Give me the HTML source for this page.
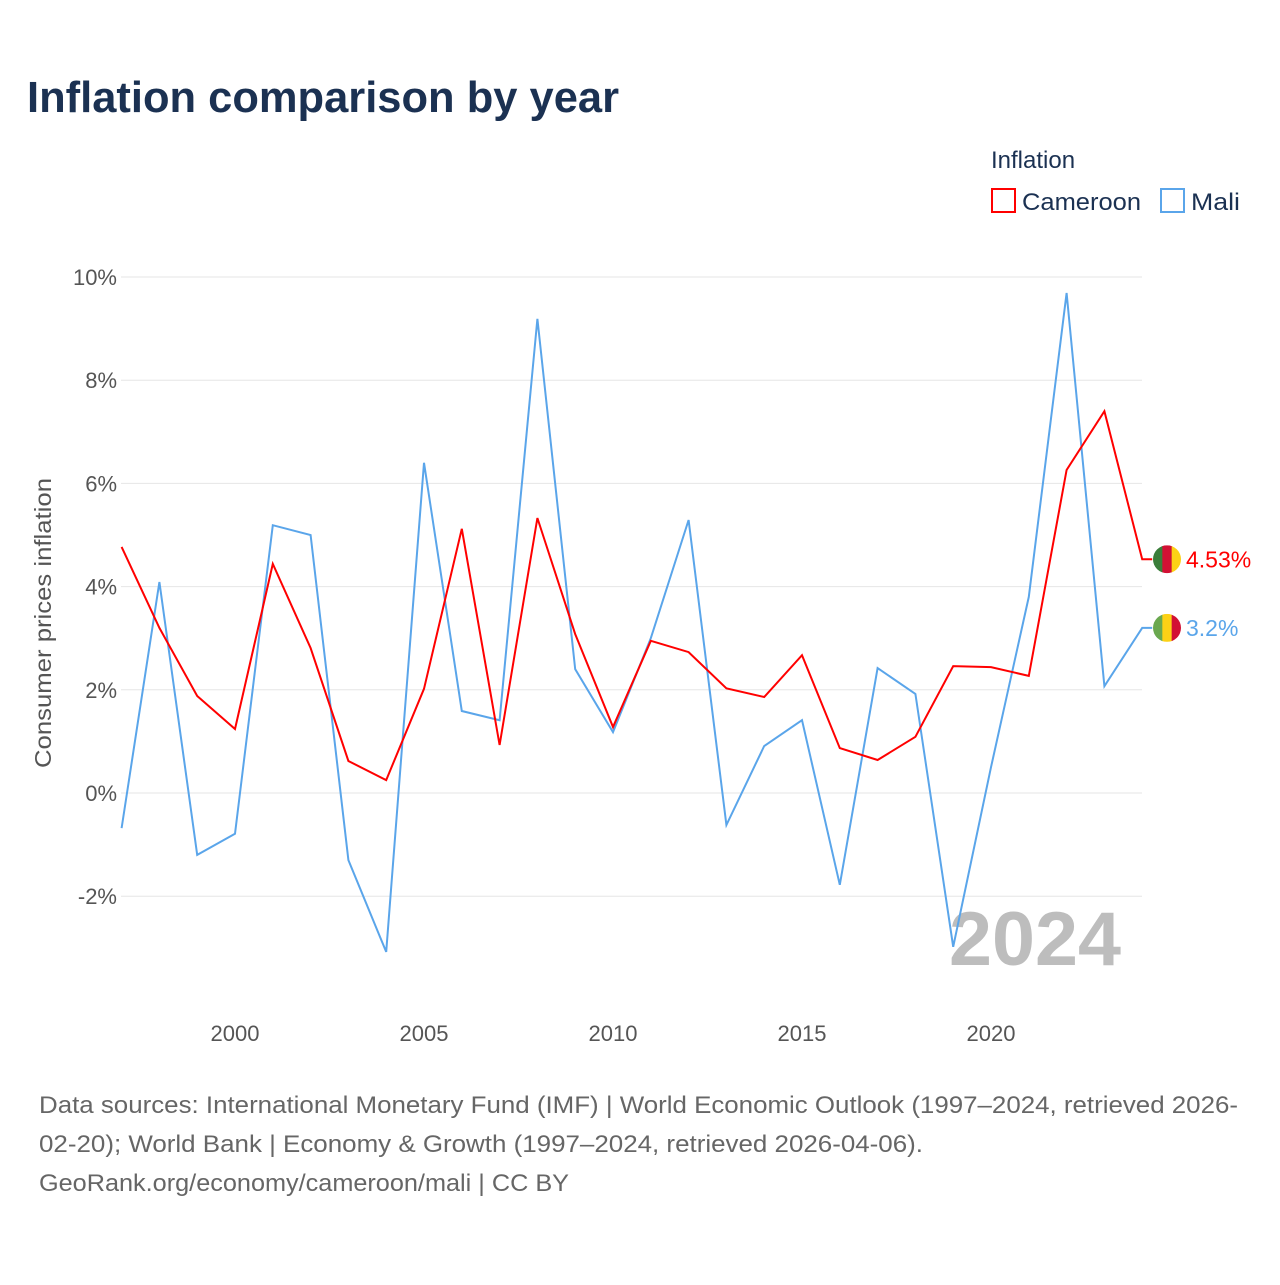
<!DOCTYPE html>
<html><head><meta charset="utf-8"><style>
body{margin:0;background:#fff;font-family:"Liberation Sans",sans-serif;}
svg text{font-family:"Liberation Sans",sans-serif;}
</style></head><body>
<svg id="chart" width="1280" height="1280" xmlns="http://www.w3.org/2000/svg">
<text x="27" y="112" font-size="44" font-weight="bold" fill="#1b3152" textLength="592" lengthAdjust="spacingAndGlyphs">Inflation comparison by year</text>
<text x="991" y="168" font-size="24" fill="#1b3152">Inflation</text>
<g><rect x="992" y="189" width="23" height="23" fill="none" stroke="#ff0000" stroke-width="2"/><text x="1022" y="210" font-size="24" fill="#1b3152" textLength="119" lengthAdjust="spacingAndGlyphs">Cameroon</text></g>
<g><rect x="1161" y="189" width="23" height="23" fill="none" stroke="#5aa5ea" stroke-width="2"/><text x="1191" y="210" font-size="24" fill="#1b3152" textLength="49" lengthAdjust="spacingAndGlyphs">Mali</text></g>
<g id="grid"></g>
<g id="xaxis"></g>
<text transform="translate(51,623) rotate(-90)" text-anchor="middle" font-size="23" fill="#555" textLength="290" lengthAdjust="spacingAndGlyphs">Consumer prices inflation</text>
<text x="1121" y="965" text-anchor="end" font-size="76" font-weight="bold" fill="#bdbdbd" textLength="172" lengthAdjust="spacingAndGlyphs">2024</text>
<g id="series"></g>
<g font-size="24" fill="#666">
<text x="39" y="1113" textLength="1199" lengthAdjust="spacingAndGlyphs">Data sources: International Monetary Fund (IMF) | World Economic Outlook (1997–2024, retrieved 2026-</text>
<text x="39" y="1152" textLength="884" lengthAdjust="spacingAndGlyphs">02-20); World Bank | Economy &amp; Growth (1997–2024, retrieved 2026-04-06).</text>
<text x="39" y="1191" textLength="530" lengthAdjust="spacingAndGlyphs">GeoRank.org/economy/cameroon/mali | CC BY</text>
</g>
</svg>
<script>
const years=[1997,1998,1999,2000,2001,2002,2003,2004,2005,2006,2007,2008,2009,2010,2011,2012,2013,2014,2015,2016,2017,2018,2019,2020,2021,2022,2023,2024];
const cameroon=[4.77,3.2,1.88,1.24,4.44,2.81,0.62,0.25,2.02,5.12,0.93,5.33,3.08,1.28,2.95,2.73,2.03,1.86,2.67,0.87,0.64,1.09,2.46,2.44,2.27,6.26,7.40,4.53];
const mali=[-0.68,4.09,-1.2,-0.79,5.19,5.0,-1.3,-3.08,6.4,1.59,1.41,9.19,2.4,1.18,3.0,5.29,-0.62,0.91,1.41,-1.78,2.42,1.92,-2.98,0.5,3.8,9.69,2.07,3.2];
const yTicks=[-2,0,2,4,6,8,10];
const xTicks=[2000,2005,2010,2015,2020];
const NS="http://www.w3.org/2000/svg";
const x=v=>121.6+(v-1997)*37.8;
const y=v=>793-v*51.6;
function mk(tag,attrs,parent){const e=document.createElementNS(NS,tag);for(const k in attrs)e.setAttribute(k,attrs[k]);parent.appendChild(e);return e;}
const grid=document.getElementById('grid');
yTicks.forEach(t=>{
  const l=mk('line',{x1:121,x2:1142,y1:y(t),y2:y(t),stroke:'#e6e6e6','stroke-width':1},grid);
  
  
  const tx=mk('text',{x:117,y:y(t)+8,'text-anchor':'end','font-size':22,fill:'#555'},grid);
  tx.textContent=t+'%';
  
  
});
const xa=document.getElementById('xaxis');
xTicks.forEach(t=>{
  const tx=mk('text',{x:x(t),y:1041,'text-anchor':'middle','font-size':22,fill:'#555'},xa);
  tx.textContent=t;
  
  
});
const s=document.getElementById('series');
function line(data,color,name){
  let d=data.map((v,i)=>(i?'L':'M')+x(years[i]).toFixed(1)+','+y(v).toFixed(1)).join('');
  d+='L'+(x(years[years.length-1])+10)+','+y(data[data.length-1]).toFixed(1);
  const p=mk('path',{d:d,fill:'none',stroke:color,'stroke-width':2},s);
  
  
}
line(mali,'#5aa5ea','mali');
line(cameroon,'#ff0000','cameroon');
function flag(v,colors,name,label,color){
  const cy=y(v),cx=1167,g=mk('g',{},s);
  
  
  const cp=mk('clipPath',{id:'c'+name},g);mk('circle',{cx:cx,cy:cy,r:14},cp);
  colors.forEach((c,i)=>mk('rect',{x:cx-14+i*28/3,y:cy-14,width:28/3+0.5,height:28,fill:c,'clip-path':'url(#c'+name+')'},g));
  const t=mk('text',{x:1186,y:cy+8,'font-size':23,fill:color},g);t.textContent=label;
}
flag(cameroon[cameroon.length-1],['#3a7d3a','#d21034','#fcd116'],'cameroon','4.53%','#ff0000');
flag(mali[mali.length-1],['#6aa84f','#fcd116','#d21034'],'mali','3.2%','#5aa5ea');
</script>
</body></html>
